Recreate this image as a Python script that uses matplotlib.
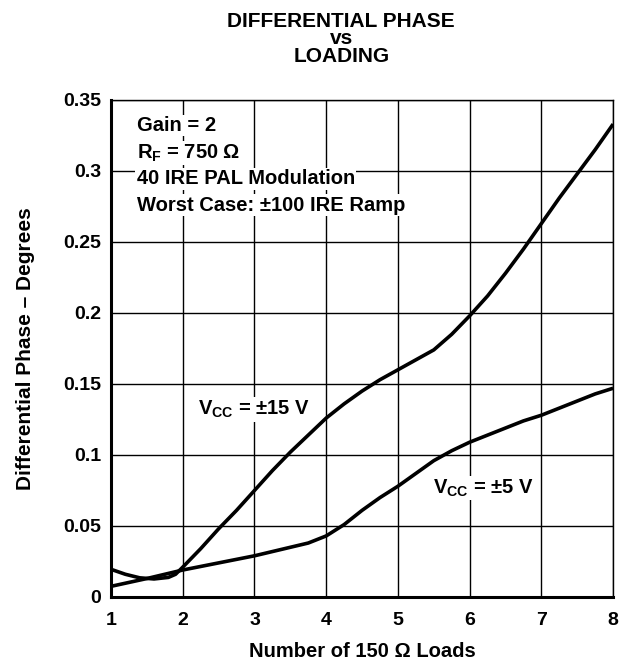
import matplotlib
matplotlib.use("Agg")
import matplotlib.pyplot as plt

plt.rcParams["font.family"] = ["Liberation Sans", "DejaVu Sans"]
plt.rcParams["font.weight"] = "bold"
plt.rcParams["mathtext.fontset"] = "custom"
plt.rcParams["mathtext.rm"] = "Liberation Sans:bold"
plt.rcParams["mathtext.bf"] = "Liberation Sans:bold"
plt.rcParams["mathtext.it"] = "Liberation Sans:bold"

# values
loads_15v = [1.0, 1.2, 1.4, 1.6, 1.8, 1.9, 2.0, 2.25, 2.5, 2.75, 3.0, 3.25, 3.5, 3.75, 4.0,
             4.25, 4.5, 4.75, 5.0, 5.25, 5.5, 5.75, 6.0, 6.25, 6.5, 6.75, 7.0, 7.25, 7.5, 7.75, 8.0]
phase_15v = [0.0195, 0.016, 0.0135, 0.0127, 0.0138, 0.016, 0.021, 0.034, 0.048, 0.061, 0.075,
             0.089, 0.102, 0.114, 0.126, 0.136, 0.145, 0.153, 0.160, 0.167, 0.174, 0.185, 0.198,
             0.212, 0.228, 0.245, 0.263, 0.281, 0.298, 0.315, 0.333]

loads_5v = [1.0, 1.5, 2.0, 2.5, 3.0, 3.5, 3.75, 4.0, 4.25, 4.5, 4.75, 5.0, 5.25, 5.5, 5.75,
            6.0, 6.25, 6.5, 6.75, 7.0, 7.25, 7.5, 7.75, 8.0]
phase_5v = [0.0075, 0.013, 0.019, 0.024, 0.029, 0.035, 0.038, 0.043, 0.051, 0.061, 0.070,
            0.078, 0.087, 0.096, 0.103, 0.109, 0.114, 0.119, 0.124, 0.128, 0.133, 0.138, 0.143, 0.147]

x_ticks = [1, 2, 3, 4, 5, 6, 7, 8]
y_ticks = [0, 0.05, 0.1, 0.15, 0.2, 0.25, 0.3, 0.35]
y_labels = ["0", "0.05", "0.1", "0.15", "0.2", "0.25", "0.3", "0.35"]

fig = plt.figure(figsize=(6.25, 6.62), dpi=100)
ax = fig.add_axes([0.1776, 0.0982, 0.8034, 0.7508])

ax.plot(loads_15v, phase_15v, color="black", lw=2.6, solid_capstyle="butt", zorder=3)
ax.plot(loads_5v, phase_5v, color="black", lw=2.6, solid_capstyle="butt", zorder=3)

ax.set_xlim(1, 8)
ax.set_ylim(0, 0.35)
ax.set_xticks(x_ticks)
ax.set_yticks(y_ticks)
ax.set_yticklabels(y_labels)
ax.grid(True, color="black", lw=1.0)
ax.set_axisbelow(True)
ax.tick_params(length=0, labelsize=14)
ax.tick_params(axis="x", pad=11)
ax.tick_params(axis="y", pad=7)
for lbl in ax.get_xticklabels() + ax.get_yticklabels():
    lbl.set_fontweight("bold")
for sp in ax.spines.values():
    sp.set_linewidth(1.0)
ax.spines["left"].set_linewidth(2.2)
ax.spines["bottom"].set_linewidth(2.2)

ax.set_xlabel("Number of 150 Ω Loads", fontsize=14.5, fontweight="bold", labelpad=9)
ax.set_ylabel("Differential Phase – Degrees", fontsize=15, fontweight="bold", labelpad=20)

fig.text(0.546, 0.982, "DIFFERENTIAL PHASE\nvs\nLOADING", ha="center", va="top",
         fontsize=15, fontweight="bold", linespacing=0.9)

box = dict(facecolor="white", edgecolor="none", pad=1.0)
notes = ["Gain = 2", r"R$_{\mathrm{F}}$ = 750 Ω", "40 IRE PAL Modulation",
         "Worst Case: ±100 IRE Ramp"]
note_y = [0.332, 0.3125, 0.2945, 0.276]
for txt, yy in zip(notes, note_y):
    ax.text(1.36, yy, txt, fontsize=14.5, fontweight="bold", va="center", ha="left",
            bbox=box, zorder=4)

ax.text(2.21, 0.132, r"V$_{\mathrm{CC}}$ = ±15 V", fontsize=14.5, fontweight="bold",
        va="center", ha="left", bbox=box, zorder=4)
ax.text(5.49, 0.0765, r"V$_{\mathrm{CC}}$ = ±5 V", fontsize=14.5, fontweight="bold",
        va="center", ha="left", bbox=box, zorder=4)

fig.savefig("out.png", dpi=100)
